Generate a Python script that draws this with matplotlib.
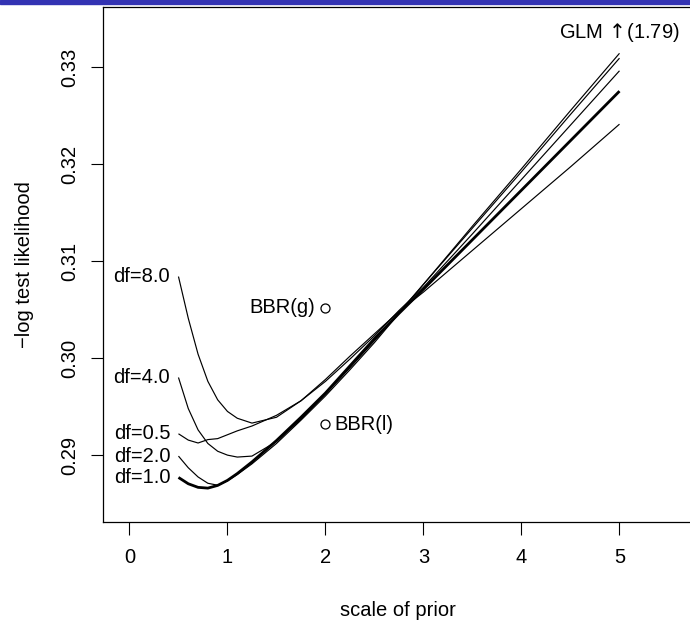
import matplotlib
matplotlib.use('Agg')
import matplotlib.pyplot as plt
from matplotlib.patches import Rectangle

# scale of prior on the x axis
scale = [0.5, 0.6, 0.7, 0.8, 0.9, 1.0, 1.1, 1.25, 1.5, 1.75, 2.0,
         2.25, 2.5, 2.75, 3.0, 3.5, 4.0, 4.5, 5.0]

# -log test likelihood for each t prior df
df_1 = [0.2877, 0.28705, 0.28668, 0.2866, 0.28688, 0.2874, 0.2881, 0.2893,
        0.2915, 0.2939, 0.2964, 0.2992, 0.3020, 0.3046, 0.3071, 0.3122,
        0.3173, 0.3224, 0.3275]
df_2 = [0.2899, 0.2887, 0.28775, 0.2871, 0.2869, 0.28735, 0.2880, 0.2891,
        0.2912, 0.2936, 0.2961, 0.2988, 0.3016, 0.3046, 0.3076, 0.3136,
        0.3195, 0.3255, 0.3314]
df_4 = [0.2980, 0.2948, 0.2926, 0.2912, 0.2904, 0.2900, 0.2898, 0.2899,
        0.2914, 0.2937, 0.2963, 0.2990, 0.3018, 0.3047, 0.3076, 0.3134,
        0.3192, 0.3251, 0.3309]
df_8 = [0.3084, 0.3041, 0.3004, 0.2976, 0.2957, 0.2945, 0.2938, 0.2933,
        0.2939, 0.2956, 0.2978, 0.3002, 0.3025, 0.3048, 0.3068, 0.3111,
        0.3154, 0.3197, 0.3241]
df_05 = [0.2922, 0.29155, 0.29125, 0.2916, 0.2917, 0.2921, 0.2925, 0.2930,
         0.2941, 0.2956, 0.2976, 0.2999, 0.3023, 0.3049, 0.3073, 0.3128,
         0.3184, 0.3240, 0.3296]

curve_names = ['df=8.0', 'df=4.0', 'df=0.5', 'df=2.0', 'df=1.0']
curves = [df_8, df_4, df_05, df_2, df_1]

# BBR results (gaussian and laplace prior)
bbr_x = [2.0, 2.0]
bbr_y = [0.3052, 0.2932]
glm_value = 1.79

x_ticks = [0, 1, 2, 3, 4, 5]
y_ticks = [0.29, 0.30, 0.31, 0.32, 0.33]

plt.rcParams['font.family'] = ['Liberation Sans', 'DejaVu Sans']
FS = 14.5

fig = plt.figure(figsize=(6.9, 6.2), dpi=100)
# slide header strip
fig.patches.append(Rectangle((0, 1 - 3.5 / 620), 1, 3.5 / 620,
                             transform=fig.transFigure, color='#3333b3', zorder=5))

ax = fig.add_axes([103 / 690, 98 / 620, 590 / 690, 515 / 620])

for name, vals in zip(curve_names, curves):
    lw = 2.0 if name == 'df=1.0' else 0.85
    ax.plot(scale, vals, color='black', lw=lw, solid_capstyle='butt')
    ax.annotate(name, (scale[0], vals[0]), xytext=(-6, 0),
                textcoords='offset points', ha='right', va='center', fontsize=FS)

ax.plot(bbr_x, bbr_y, 'o', mfc='none', mec='black', ms=6.5, mew=0.9)
ax.annotate('BBR(g)', (bbr_x[0], bbr_y[0]), xytext=(-7.5, 0),
            textcoords='offset points', ha='right', va='center', fontsize=FS)
ax.annotate('BBR(l)', (bbr_x[1], bbr_y[1]), xytext=(6.5, 0),
            textcoords='offset points', ha='left', va='center', fontsize=FS)

ax.text(5.0, 0.3335, r'GLM $\!\uparrow\!$(%.2f)' % glm_value, ha='center',
        va='center', fontsize=FS)

ax.set_xlim(-0.27, 5.75)
ax.set_ylim(0.28311, 0.33617)
ax.set_xticks(x_ticks)
ax.set_xticklabels([str(t) for t in x_ticks])
ax.set_yticks(y_ticks)
ax.set_yticklabels(['%.2f' % t for t in y_ticks])
ax.tick_params(axis='both', direction='out', length=9, width=0.8,
               labelsize=FS)
ax.tick_params(axis='x', pad=10)
ax.tick_params(axis='y', pad=8, labelrotation=90)
plt.setp(ax.get_yticklabels(), va='center')

for s in ax.spines.values():
    s.set_linewidth(0.9)

fig.text(398 / 690, 1 - 611 / 620, 'scale of prior', ha='center', va='center',
         fontsize=FS)
fig.text(25 / 690, 1 - 265 / 620, '\u2212log test likelihood', ha='center',
         va='center', rotation=90, fontsize=FS)

fig.savefig('out.png', dpi=100)
